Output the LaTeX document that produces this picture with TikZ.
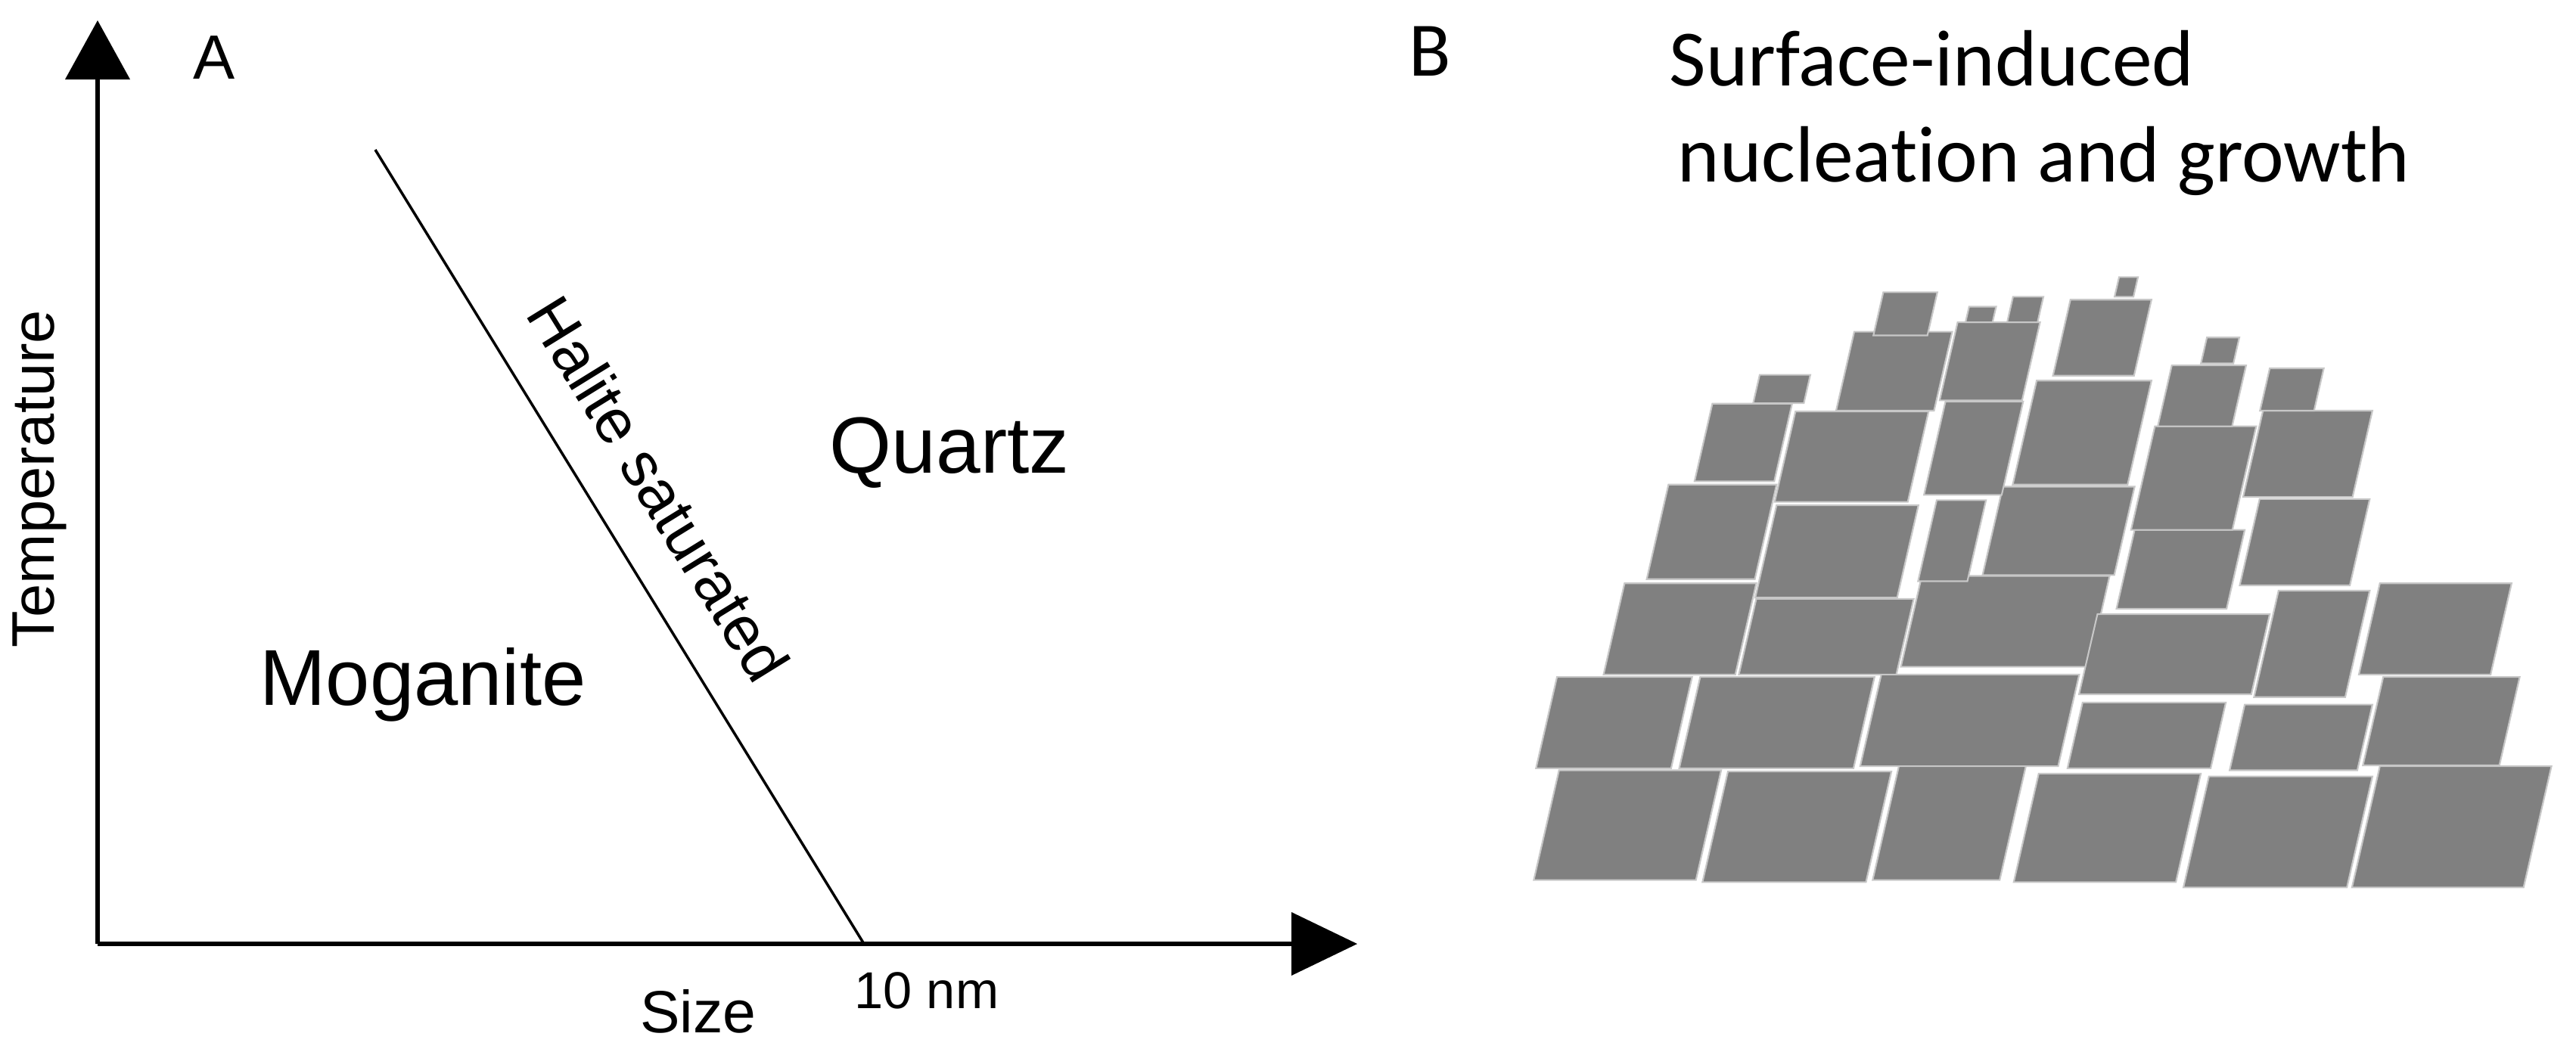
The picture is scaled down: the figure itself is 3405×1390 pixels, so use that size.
\documentclass[tikz,border=0pt]{standalone}
\usepackage{fontspec}
\newfontfamily\arialf{Liberation Sans}
\newfontfamily\calib{Carlito}[Ligatures={NoCommon}]
\newcommand\pgram[4]{\filldraw[crys] ({#1-0.14*(#4-#3)},#4) -- ({#2-0.14*(#4-#3)},#4) -- (#2,#3) -- (#1,#3) -- cycle;}
\begin{document}
\begin{tikzpicture}[x=0.01cm,y=-0.01cm,
  crys/.style={fill=black!50,draw=black!22,line width=0.6pt},
  axis/.style={line width=1.9pt},
  head/.style={fill=black},
  lab/.style={inner sep=0pt,font=\arialf}]
\useasboundingbox (0,0) rectangle (3405,1390);
% panel A
\coordinate (O) at (129,1248);
\coordinate (Ytop) at (129,105);
\coordinate (Xend) at (1707,1248);
\draw[axis] (O) -- (Ytop);
\draw[axis] (O) -- (Xend);
\fill[head] (86,105) -- (172,105) -- (129,27) -- cycle;
\fill[head] (1707,1206) -- (1707,1290) -- (1794,1248) -- cycle;
\coordinate (L1) at (496,198);
\coordinate (L2) at (1142,1248);
\draw[line width=1pt] (L1) -- (L2);
\node[lab,font=\arialf\fontsize{23.5}{28}\selectfont] (A) at (283,76) {A};
\node[lab,font=\arialf\fontsize{22.6}{27}\selectfont,rotate=90] (T) at (52,633) {Temperature};
\node[lab,font=\arialf\fontsize{29.8}{36}\selectfont] (M) at (559,905) {Moganite};
\node[lab,font=\arialf\fontsize{30}{36}\selectfont] (Q) at (1255,599) {Quartz};
\node[lab,font=\arialf\fontsize{23.5}{28}\selectfont,rotate=-58.3] (H) at (871,646) {Halite saturated};
\node[lab,font=\arialf\fontsize{22.4}{27}\selectfont] (S) at (923,1337) {Size};
\node[lab,font=\arialf\fontsize{19.5}{24}\selectfont] (N) at (1225,1310) {10 nm};
% panel B
\node[lab,font=\calib\fontsize{29}{34}\selectfont] (B) at (1890,68) {B};
\node[lab,font=\calib\fontsize{30}{36}\selectfont,anchor=base west] (t1) at (2206,113) {Surface-induced};
\node[lab,font=\calib\fontsize{30}{36}\selectfont,anchor=base west] (t2) at (2217,240) {nucleation and growth};
\begin{scope}[shift={(2000,350)},xscale=0.893,yscale=0.5435]
\pgram{68}{308}{1230}{1497}
\pgram{318}{560}{1233}{1502}
\pgram{572}{760}{1213}{1497}
\pgram{778}{1018}{1238}{1502}
\pgram{1030}{1272}{1245}{1515}
\pgram{1283}{1537}{1220}{1515}
\pgram{65}{265}{1003}{1225}
\pgram{277}{535}{1003}{1225}
\pgram{545}{838}{997}{1220}
\pgram{843}{1055}{1065}{1225}
\pgram{1083}{1272}{1070}{1230}
\pgram{1288}{1490}{1003}{1218}
\pgram{165}{360}{775}{997}
\pgram{360}{593}{813}{997}
\pgram{605}{883}{757}{978}
\pgram{865}{1120}{850}{1045}
\pgram{1133}{1268}{793}{1052}
\pgram{1283}{1478}{775}{997}
\pgram{230}{390}{535}{765}
\pgram{390}{600}{585}{810}
\pgram{627}{700}{573}{770}
\pgram{725}{920}{540}{755}
\pgram{920}{1083}{645}{837}
\pgram{1105}{1268}{570}{780}
\pgram{295}{413}{338}{527}
\pgram{418}{615}{357}{577}
\pgram{640}{755}{333}{560}
\pgram{775}{945}{282}{535}
\pgram{950}{1100}{393}{645}
\pgram{1110}{1272}{355}{565}
\pgram{365}{440}{268}{337}
\pgram{505}{650}{163}{355}
\pgram{658}{780}{140}{330}
\pgram{825}{945}{85}{270}
\pgram{975}{1085}{245}{393}
\pgram{1120}{1200}{252}{355}
\pgram{548}{628}{67}{172}
\pgram{675}{715}{102}{140}
\pgram{740}{785}{78}{140}
\pgram{897}{925}{30}{78}
\pgram{1027}{1075}{177}{240}
\end{scope}
\end{tikzpicture}
\end{document}
